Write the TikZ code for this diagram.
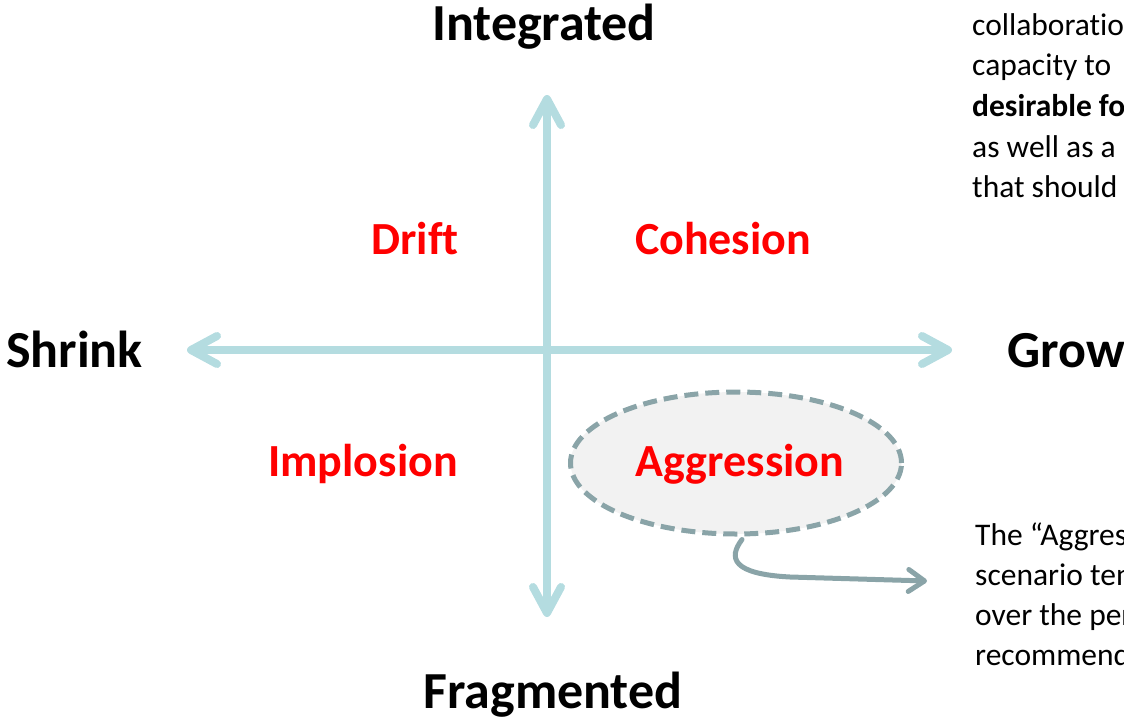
\documentclass[tikz,border=0pt]{standalone}
\usepackage{fontspec}
\setmainfont{Carlito}[Ligatures=NoCommon]
\usetikzlibrary{arrows.meta,shapes.geometric}
\definecolor{axiscol}{HTML}{B4DCE0}
\definecolor{ellline}{HTML}{8AA4A8}
\definecolor{ellfill}{HTML}{F2F2F2}
\definecolor{lblred}{HTML}{FF0000}
\tikzset{
  axis/.style={draw=axiscol, line width=8pt, line cap=round,
    {Straight Barb[length=26pt,width=28pt,line cap=round,line join=round]}-{Straight Barb[length=26pt,width=28pt,line cap=round,line join=round]}},
  heading/.style={font=\fontsize{52}{60}\selectfont\bfseries, anchor=base, inner sep=0pt},
  quad/.style={font=\fontsize{46}{54}\selectfont\bfseries, text=lblred, anchor=base, inner sep=0pt},
  body/.style={font=\fontsize{31.5}{40}\selectfont, anchor=base west, inner sep=0pt},
}
\begin{document}
\begin{tikzpicture}[x=1pt,y=-1pt]
\useasboundingbox (0,0) rectangle (1124,720);
\clip (0,0) rectangle (1124,720);
% axes
\coordinate (left) at (187,350);
\coordinate (right) at (952,350);
\coordinate (top) at (547,95);
\coordinate (bottom) at (547,617);
\draw[axis] (left) -- (right);
\draw[axis] (bottom) -- (top);
% headings
\node[heading] (integrated) at (544,40) {Integrated};
\node[heading] (fragmented) at (553,708) {Fragmented};
\node[heading, anchor=base west] (shrink) at (6,367) {Shrink};
\node[heading, anchor=base west] (grow) at (1007,367) {Grow};
% ellipse
\node[ellipse, draw=ellline, fill=ellfill, line width=5pt, dash pattern=on 14pt off 7pt,
      minimum width=331pt, minimum height=142pt, inner sep=0pt] (agg) at (736,463) {};
% quadrant labels
\node[quad] (drift) at (415,254) {Drift};
\node[quad] (cohesion) at (723,254) {Cohesion};
\node[quad] (implosion) at (363,476) {Implosion};
\node[quad] (aggression) at (740,476) {Aggression};
% connector
\coordinate (callout) at (927,581);
\draw[ellline, line width=5pt, line cap=round,
  -{Straight Barb[length=16pt,width=22pt,line cap=round,line join=round]}]
  ([xshift=6pt,yshift=-3pt]agg.south) .. controls (728,558) and (732,574) .. (790,577) -- (callout);
% right texts
\node[body] (t1) at (972,35) {collaboration};
\node[body] (t2) at (972,75) {capacity to};
\node[body, font=\fontsize{31.5}{40}\selectfont\bfseries] (t3) at (972,116) {desirable for};
\node[body] (t4) at (972,157) {as well as a};
\node[body] (t5) at (972,197) {that should};
\node[body] (b1) at (975,545) {The “Aggression”};
\node[body] (b2) at (975,585) {scenario tends};
\node[body] (b3) at (975,625) {over the period};
\node[body] (b4) at (975,665) {recommended};
\end{tikzpicture}
\end{document}
